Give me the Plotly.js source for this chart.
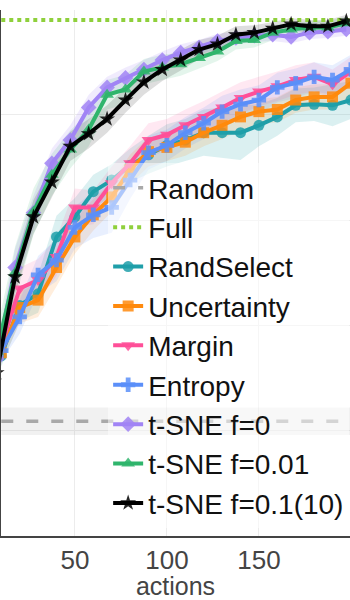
<!DOCTYPE html>
<html>
<head>
<meta charset="utf-8">
<script src="https://cdn.plot.ly/plotly-3.0.1.min.js"></script>
<style>
  html, body { margin: 0; padding: 0; background: #fff; }
  #chart { width: 350px; height: 600px; }
</style>
</head>
<body>
<div id="chart"></div>
<script>
// x positions (actions)
var xBase = [10, 20, 30, 40, 50, 60, 70, 80, 90, 100, 110, 120, 130, 140, 150, 160, 170, 180, 190, 200];
var xTsne = [7.5, 17.5, 27.5, 37.5, 47.5, 57.5, 67.5, 77.5, 87.5, 97.5, 107.5, 117.5, 127.5, 137.5, 147.5, 157.5, 167.5, 177.5, 187.5, 197.5];

var randomAcc = 0.509;
var randomErr = 0.013;
var fullAcc = 0.890;

var randSelect  = [0.571, 0.619, 0.630, 0.684, 0.703, 0.727, 0.738, 0.752, 0.762, 0.771, 0.776, 0.783, 0.783, 0.783, 0.790, 0.798, 0.809, 0.810, 0.809, 0.814];
var uncertainty = [0.574, 0.617, 0.624, 0.655, 0.684, 0.705, 0.722, 0.748, 0.765, 0.769, 0.774, 0.783, 0.790, 0.798, 0.803, 0.805, 0.814, 0.817, 0.817, 0.830];
var margin      = [0.581, 0.635, 0.643, 0.665, 0.712, 0.712, 0.735, 0.754, 0.776, 0.781, 0.790, 0.798, 0.807, 0.816, 0.822, 0.827, 0.833, 0.836, 0.829, 0.841];
var entropy     = [0.576, 0.608, 0.648, 0.662, 0.693, 0.705, 0.712, 0.738, 0.764, 0.771, 0.783, 0.792, 0.803, 0.810, 0.814, 0.826, 0.830, 0.836, 0.833, 0.843];
var tsne0       = [0.568, 0.655, 0.707, 0.754, 0.776, 0.807, 0.826, 0.835, 0.843, 0.852, 0.859, 0.864, 0.870, 0.873, 0.875, 0.876, 0.874, 0.878, 0.879, 0.881];
var tsne001     = [0.575, 0.650, 0.708, 0.743, 0.767, 0.786, 0.819, 0.824, 0.841, 0.845, 0.848, 0.854, 0.860, 0.870, 0.871, 0.878, 0.881, 0.883, 0.883, 0.887];
var tsne01      = [0.555, 0.646, 0.703, 0.736, 0.770, 0.782, 0.796, 0.814, 0.831, 0.843, 0.852, 0.862, 0.867, 0.876, 0.878, 0.882, 0.886, 0.884, 0.884, 0.889];

// half widths of the shaded bands
var randSelectErr  = [0.010, 0.015, 0.018, 0.020, 0.018, 0.016, 0.015, 0.016, 0.018, 0.020, 0.020, 0.022, 0.024, 0.026, 0.020, 0.018, 0.016, 0.016, 0.020, 0.018];
var uncertaintyErr = [0.010, 0.015, 0.016, 0.018, 0.016, 0.015, 0.014, 0.014, 0.014, 0.013, 0.013, 0.013, 0.013, 0.013, 0.012, 0.012, 0.012, 0.012, 0.012, 0.012];
var marginErr      = [0.010, 0.020, 0.020, 0.018, 0.018, 0.016, 0.016, 0.016, 0.016, 0.015, 0.015, 0.015, 0.015, 0.015, 0.014, 0.014, 0.014, 0.014, 0.014, 0.014];
var entropyErr     = [0.010, 0.016, 0.018, 0.020, 0.020, 0.022, 0.024, 0.018, 0.016, 0.015, 0.015, 0.015, 0.015, 0.014, 0.014, 0.014, 0.014, 0.014, 0.014, 0.014];
var tsne0Err       = [0.012, 0.018, 0.016, 0.014, 0.014, 0.012, 0.010, 0.010, 0.009, 0.008, 0.008, 0.007, 0.007, 0.006, 0.006, 0.006, 0.006, 0.006, 0.006, 0.006];
var tsne001Err     = [0.020, 0.025, 0.022, 0.020, 0.018, 0.016, 0.014, 0.014, 0.012, 0.012, 0.011, 0.010, 0.009, 0.008, 0.007, 0.007, 0.006, 0.006, 0.006, 0.006];
var tsne01Err      = [0.015, 0.016, 0.016, 0.015, 0.014, 0.014, 0.013, 0.012, 0.012, 0.011, 0.010, 0.009, 0.008, 0.008, 0.007, 0.006, 0.006, 0.006, 0.006, 0.006];

var series = [
    {name: 'RandSelect',       x: xBase, y: randSelect,  err: randSelectErr,  color: '#1f9fa9', fill: 'rgba(31,159,169,0.16)',  symbol: 'circle',        size: 11},
    {name: 'Uncertainty',      x: xBase, y: uncertainty, err: uncertaintyErr, color: '#ff8a0d', fill: 'rgba(255,138,13,0.14)',  symbol: 'square',        size: 11},
    {name: 'Margin',           x: xBase, y: margin,      err: marginErr,      color: '#ff4f98', fill: 'rgba(255,79,152,0.13)',  symbol: 'triangle-down', size: 12},
    {name: 'Entropy',          x: xBase, y: entropy,     err: entropyErr,     color: '#5b8ff9', fill: 'rgba(91,143,249,0.14)',  symbol: 'cross',         size: 12},
    {name: 't-SNE f=0',        x: xTsne, y: tsne0,       err: tsne0Err,       color: '#a184f5', fill: 'rgba(161,132,245,0.16)', symbol: 'diamond',       size: 12},
    {name: 't-SNE f=0.01',     x: xTsne, y: tsne001,     err: tsne001Err,     color: '#2fb56c', fill: 'rgba(47,181,108,0.13)',  symbol: 'triangle-up',   size: 12},
    {name: 't-SNE f=0.1(10)',  x: xTsne, y: tsne01,      err: tsne01Err,      color: '#000000', fill: 'rgba(0,0,0,0.13)',       symbol: 'star',          size: 12}
];

var bands = [];
var lines = [];

// random baseline band + line
bands.push({
    type: 'scatter', mode: 'lines', showlegend: false, hoverinfo: 'skip',
    x: [xBase[0], xBase[xBase.length - 1], xBase[xBase.length - 1], xBase[0]],
    y: [randomAcc + randomErr, randomAcc + randomErr, randomAcc - randomErr, randomAcc - randomErr],
    fill: 'toself', fillcolor: 'rgba(160,160,160,0.15)', line: {width: 0}
});
lines.push({
    type: 'scatter', mode: 'lines', name: 'Random',
    x: [xBase[0], xBase[xBase.length - 1]], y: [randomAcc, randomAcc],
    line: {color: '#a9a9a9', width: 3.5, dash: '12px,13px'}
});
lines.push({
    type: 'scatter', mode: 'lines', name: 'Full',
    x: [xBase[0], xBase[xBase.length - 1]], y: [fullAcc, fullAcc],
    line: {color: '#8fd03c', width: 4, dash: 'dot'}
});

series.forEach(function (s) {
    var up = [], lo = [];
    for (var i = 0; i < s.y.length; i++) {
        up.push(s.y[i] + s.err[i]);
        lo.push(s.y[i] - s.err[i]);
    }
    bands.push({
        type: 'scatter', mode: 'lines', showlegend: false, hoverinfo: 'skip',
        x: s.x.concat(s.x.slice().reverse()),
        y: up.concat(lo.slice().reverse()),
        fill: 'toself', fillcolor: s.fill, line: {width: 0}
    });
    lines.push({
        type: 'scatter', mode: 'lines+markers', name: s.name,
        x: s.x, y: s.y,
        line: {color: s.color, width: 4},
        marker: {color: s.color, symbol: s.symbol, size: s.size, opacity: 0.85, line: {width: 0}}
    });
});

var layout = {
    width: 350,
    height: 600,
    margin: {l: 1, r: 0, t: 10, b: 64},
    paper_bgcolor: '#ffffff',
    plot_bgcolor: '#ffffff',
    font: {family: 'Liberation Sans, Arial, sans-serif', color: '#444', size: 26},
    showlegend: true,
    legend: {
        x: 0.307, xanchor: 'left',
        y: 0.709, yanchor: 'top',
        bgcolor: 'rgba(255,255,255,0.5)',
        borderwidth: 0,
        font: {size: 28, color: '#111'},
        tracegroupgap: 0
    },
    xaxis: {
        range: [9.85, 199.5],
        tickvals: [50, 100, 150],
        ticktext: ['50', '100', '150'],
        showgrid: true, gridcolor: '#ececec', gridwidth: 1,
        zeroline: false,
        showline: true, linecolor: '#444', linewidth: 1.5,
        ticks: '',
        tickfont: {size: 26, color: '#444'},
        title: {text: 'actions', font: {size: 25, color: '#444'}, standoff: 1},
        automargin: true
    },
    yaxis: {
        range: [0.4, 0.8995],
        dtick: 0.1,
        showgrid: true, gridcolor: '#ececec', gridwidth: 1,
        zeroline: false,
        showline: true, linecolor: '#444', linewidth: 1.5,
        showticklabels: false,
        ticks: '',
        automargin: false
    }
};

Plotly.newPlot('chart', bands.concat(lines), layout, {staticPlot: true, displayModeBar: false});
</script>
</body>
</html>
